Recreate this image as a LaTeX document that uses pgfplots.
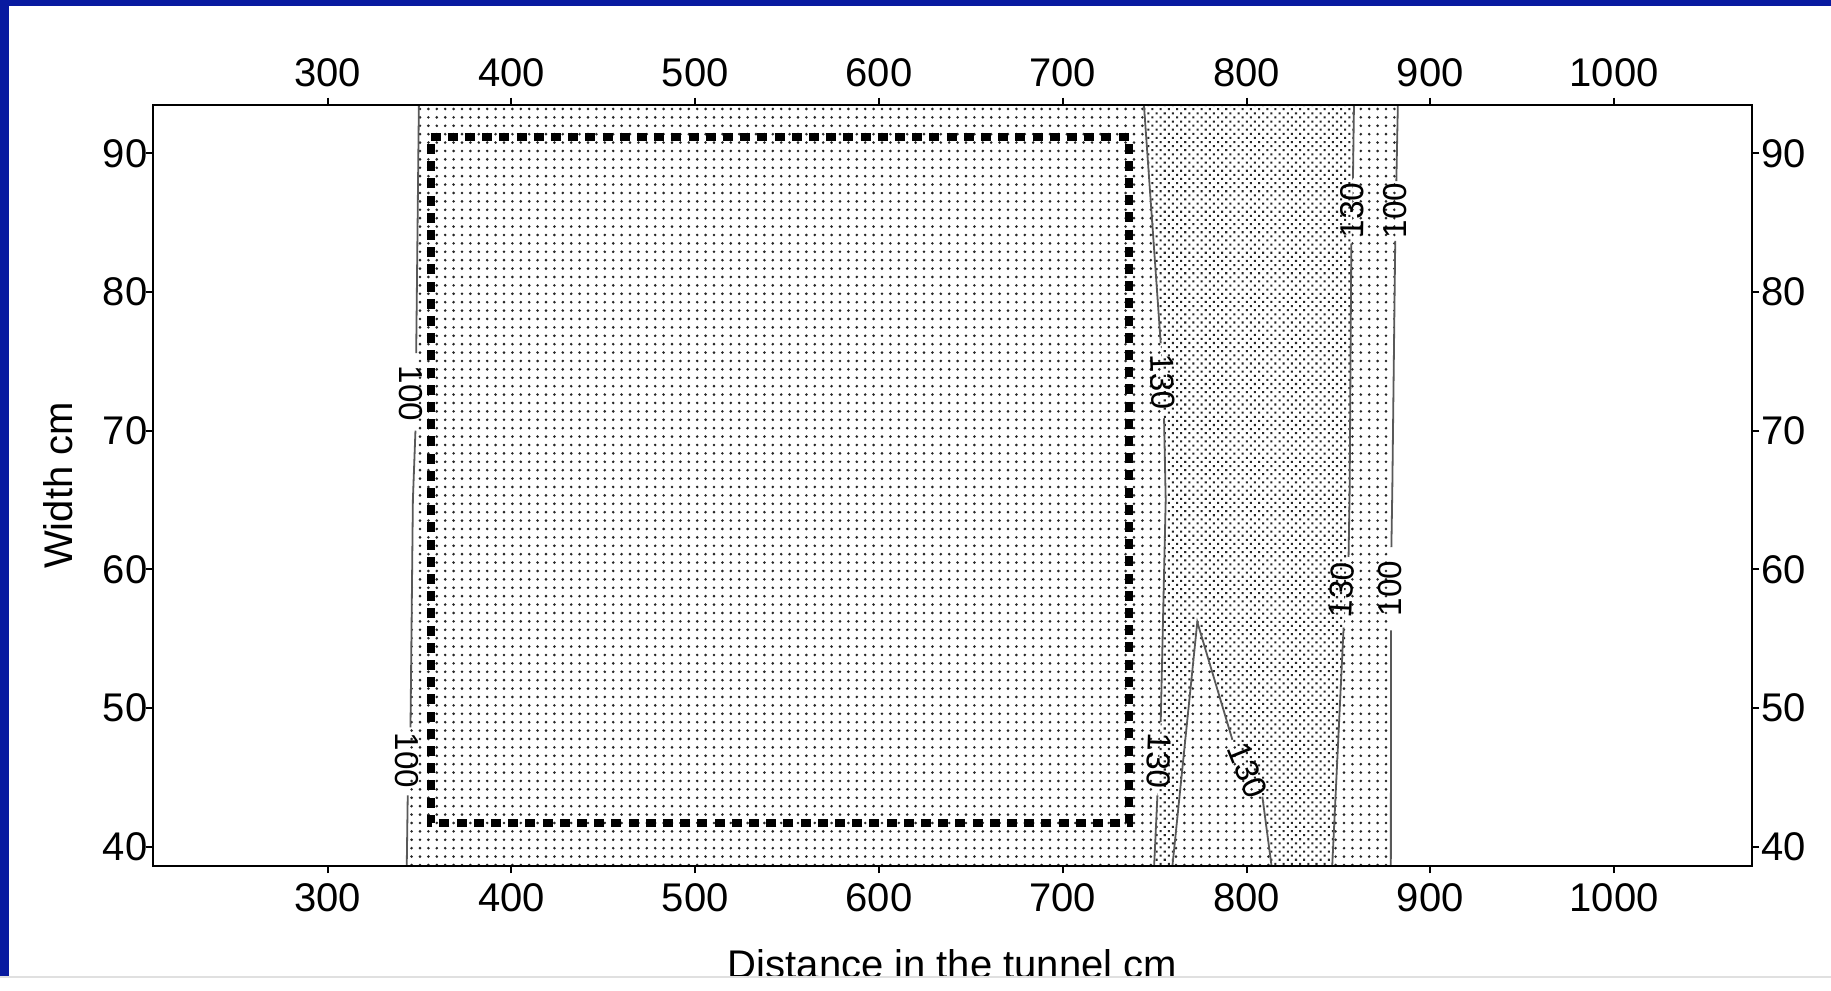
\documentclass[border=0pt]{standalone}
\usepackage{pgfplots}
\pgfplotsset{compat=1.18}
\usepackage{fontspec}
\setmainfont{Liberation Sans}
\usetikzlibrary{patterns.meta}
\definecolor{slideblue}{RGB}{8,26,160}

\pgfplotsset{
 mybase/.style={
  scale only axis, width=399.75pt, height=190.25pt,
  at={(38.25pt,31.25pt)}, anchor=south west,
  xmin=205, xmax=1075, ymin=38.6, ymax=93.5,
  xtick={300,400,...,1000}, ytick={40,50,...,90},
  tick align=outside, major tick length=1.8pt,
  axis line style={line width=0.5pt, black},
  every tick/.append style={black, line width=0.5pt},
  tick label style={font=\fontsize{10}{12}\selectfont},
  /pgf/number format/assume math mode=true,
  /pgf/number format/1000 sep={},
  xticklabel style={inner ysep=2.5pt},
  yticklabel style={inner xsep=0.3pt},
 },
}
\tikzset{
 contour/.style={black!65, line width=0.45pt},
 clab/.style={font=\fontsize{8.3}{9}\selectfont, inner sep=0pt},
}

\begin{document}
\begin{tikzpicture}
\useasboundingbox (0,0) rectangle (457.75pt,247.75pt);
\fill[white] (0,0) rectangle (457.75pt,247.75pt);
\fill[slideblue] (0,0) rectangle (2.3pt,247.75pt);
\fill[slideblue] (0,246.25pt) rectangle (457.75pt,247.75pt);

\begin{axis}[mybase, unbounded coords=jump,
  yticklabel style={inner xsep=0pt, xshift=0.6pt},
  xlabel={Distance in the tunnel cm}, ylabel={Width cm},
  xlabel style={at={(axis description cs:0.5,-0.1485)}, anchor=base, font=\fontsize{10}{12}\selectfont},
  ylabel style={at={(axis description cs:-0.0592,0.5)}, anchor=center, font=\fontsize{10}{12}\selectfont},
]
% region between the two 100 contours (light dots)
\addplot[draw=none, pattern={Dots[distance=2.1pt, radius=0.36pt]}, pattern color=black!85] coordinates {
 (343.0,38) (343.6,43.7) (344.5,46.2) (345.1,48.6) (346.4,65) (347.8,70) (348.0,72.7) (348.2,75.6) (349.7,94)
 (882.4,94) (881.5,88) (881.0,85.9) (880.9,83.5) (879.3,65.7) (878.8,61) (878.5,58.6) (878.6,56) (878.5,38)
} -- cycle;
% region above 130 (dense dots)
\addplot[draw=none, fill=white] coordinates {
 (743.9,94) (753.3,76.3) (754.2,73.5) (755.1,70.9) (756.0,65) (753.3,49) (752.4,46.2) (751.5,43.7) (749.5,38)
 (759.2,38) (773.2,56.2) (792.3,47.7) (800.4,45.6) (808.6,43.6) (814.2,38)
 (846.4,38) (852.6,55.6) (853.9,58.5) (855.3,61.4) (856.1,65.7) (857.0,83.5) (857.5,85.9) (858.5,94)
} -- cycle;
\addplot[draw=none, pattern={Dots[distance=1.45pt, radius=0.36pt, angle=45]}, pattern color=black!85] coordinates {
 (743.9,94) (753.3,76.3) (754.2,73.5) (755.1,70.9) (756.0,65) (753.3,49) (752.4,46.2) (751.5,43.7) (749.5,38)
 (759.2,38) (773.2,56.2) (792.3,47.7) (800.4,45.6) (808.6,43.6) (814.2,38)
 (846.4,38) (852.6,55.6) (853.9,58.5) (855.3,61.4) (856.1,65.7) (857.0,83.5) (857.5,85.9) (858.5,94)
} -- cycle;

% contour lines (with gaps for labels)
\addplot[contour] coordinates {
 (349.7,94) (348.2,75.6) (348.2,nan) (347.8,70.0) (346.4,65) (345.1,48.6) (345.1,nan) (343.6,43.7) (343.0,38)
};
\addplot[contour] coordinates {
 (743.9,94) (753.3,76.3) (753.3,nan) (755.1,70.9) (756.0,65) (753.3,49) (753.3,nan) (751.5,43.7) (749.5,38)
};
\addplot[contour] coordinates {
 (759.2,38) (773.2,56.2) (792.3,47.7) (792.3,nan) (808.6,43.6) (814.2,38)
};
\addplot[contour] coordinates {
 (858.5,94) (857.9,88.2) (857.9,nan) (857.0,83.5) (856.1,65.7) (855.5,60.9) (855.5,nan) (852.8,55.8) (846.4,38)
};
\addplot[contour] coordinates {
 (882.4,94) (881.5,88.0) (881.5,nan) (880.9,83.7) (879.3,65.7) (878.8,61.6) (878.8,nan) (878.6,55.6) (878.5,38)
};

% dashed rectangle
\addplot[black, line width=2pt, dash pattern=on 2.5pt off 1.8pt] coordinates {
 (356,91.2) (736,91.2) (736,41.7) (356,41.7)
} -- cycle;

% contour labels
\node[clab, rotate=-90] at (axis cs:345.5,72.7) {100};
\node[clab, rotate=-90] at (axis cs:342.9,46.2) {100};
\node[clab, rotate=-88] at (axis cs:754.3,73.5) {130};
\node[clab, rotate=-92] at (axis cs:752.4,46.2) {130};
\node[clab, rotate=-68] at (axis cs:800.4,45.5) {130};
\node[clab, rotate=89] at (axis cs:857.4,85.9) {130};
\node[clab, rotate=87] at (axis cs:851.6,58.5) {130};
\node[clab, rotate=90] at (axis cs:881.0,85.9) {100};
\node[clab, rotate=90] at (axis cs:877.9,58.6) {100};
\end{axis}

\begin{axis}[mybase, xticklabel pos=right, yticklabel pos=right]
\end{axis}

\fill[white] (0,0) rectangle (457.75pt,3.5pt);
\draw[black!12, line width=0.4pt] (0,3.5pt) -- (457.75pt,3.5pt);
\end{tikzpicture}
\end{document}
